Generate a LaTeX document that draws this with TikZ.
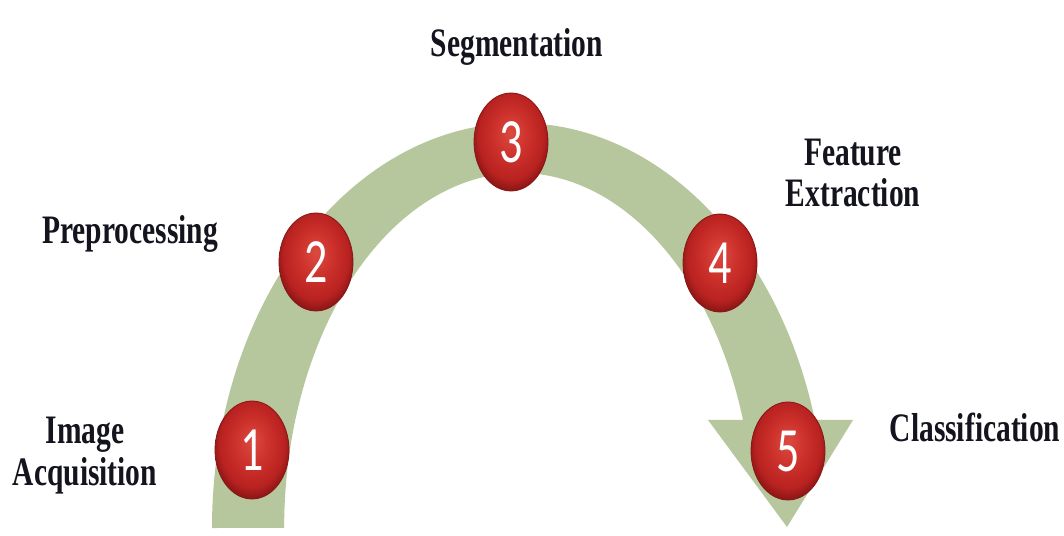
\documentclass[tikz,border=0pt]{standalone}
\usepackage{fontspec}
\setmainfont{Liberation Serif}
\newfontfamily\numfont{Carlito}
\usetikzlibrary{shapes.geometric}
\definecolor{bandgreen}{RGB}{183,199,157}
\definecolor{ballhi}{RGB}{220,74,64}
\definecolor{ballmid}{RGB}{204,48,43}
\definecolor{balldark}{RGB}{184,34,32}
\definecolor{balledge}{RGB}{138,22,22}
\definecolor{labelink}{RGB}{20,20,30}
\pgfdeclareradialshading{redball}{\pgfpoint{0bp}{5bp}}{color(0bp)=(ballhi); color(12bp)=(ballmid); color(22bp)=(balldark); color(27bp)=(balledge); color(50bp)=(balledge)}
\newcommand\tallnum[1]{\scalebox{1}[1.37]{#1}}
\begin{document}
\begin{tikzpicture}[x=1pt,y=1pt,
  ball/.style={ellipse, minimum width=74pt, minimum height=98pt, inner sep=0pt,
    shading=redball, draw=balledge, line width=0.8pt,
    font=\numfont\fontsize{46}{46}\selectfont, text=white},
  lab/.style={font=\bfseries\fontsize{29.5}{30}\selectfont, text=labelink,
    align=center, anchor=base, yscale=1.37}]
\useasboundingbox (0,0) rectangle (1064,535);
\fill[white] (0,0) rectangle (1064,535);
% arched arrow band
\fill[bandgreen] (212,7) arc[start angle=180, end angle=15.47, x radius=307, y radius=405]
  -- (853,115) -- (787,8) -- (708,115) -- (743,115)
  arc[start angle=17.71, end angle=180, x radius=235, y radius=355] -- cycle;
% numbered balls
\node[ball] (b1) at (252,85) {\tallnum{1}};
\node[ball] (b2) at (316,273) {\tallnum{2}};
\node[ball] (b3) at (511,393) {\tallnum{3}};
\node[ball] (b4) at (720,272) {\tallnum{4}};
\node[ball] (b5) at (788,84) {\tallnum{5}};
% labels
\node[lab] (l3) at (517,478) {Segmentation};
\node[lab] (l2) at (130,291) {Preprocessing};
\node[lab] (l1) at (85,50) {Image\\Acquisition};
\node[lab] (l4) at (853,328) {Feature\\Extraction};
\node[lab] (l5) at (975,93) {Classification};
\end{tikzpicture}
\end{document}
